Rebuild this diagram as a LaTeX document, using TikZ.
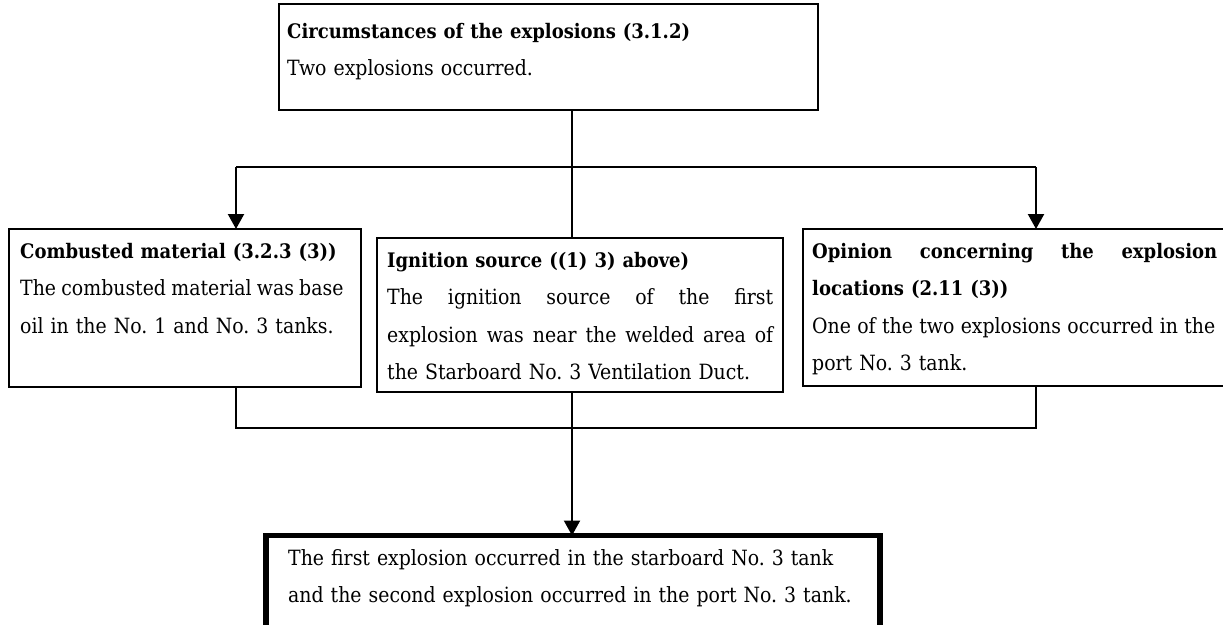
\documentclass[tikz,border=0pt]{standalone}
\usepackage{fontspec}
\setmainfont{DejaVu Serif Condensed}
\usetikzlibrary{arrows.meta}
% a line whose word spaces stretch to a given width
\newcommand{\jline}[2]{\makebox[#1][s]{\spaceskip=.25em plus 1fil\relax #2}}
% box headings
\newcommand{\hd}[1]{{\fontsize{20}{37.5}\selectfont\bfseries #1}}
\begin{document}
\begin{tikzpicture}[x=1pt,y=-1pt,
  box/.style={draw, line width=2pt, inner sep=0pt, outer sep=0pt, anchor=north west},
  finalbox/.style={box, line width=5.5pt},
  txt/.style={anchor=base west, inner sep=0pt, align=left,
              font=\fontsize{21}{37.5}\selectfont},
  conn/.style={line width=2.2pt},
  arr/.style={conn, -{Triangle[width=16pt,length=15pt]}}]
\useasboundingbox (0,0) rectangle (1223,624);
\clip (0,0) rectangle (1223,624);

% boxes
\node[box, minimum width=539pt, minimum height=106pt] (tb) at (279,4) {};
\node[box, minimum width=352pt, minimum height=158pt] (lb) at (9,229) {};
\node[box, minimum width=406pt, minimum height=154pt] (mb) at (377,238) {};
\node[box, minimum width=440pt, minimum height=157pt] (rb) at (803,229) {};
\node[finalbox, minimum width=614pt, minimum height=92pt] (fb) at (266,535.5) {};

% texts
\node[txt, text width=500pt] (tbt) at (287,38)
  {\hd{Circumstances of the explosions (3.1.2)}\\Two explosions occurred.};
\node[txt, text width=330pt] (lbt) at (20,258)
  {\hd{Combusted material (3.2.3 (3))}\\
   \jline{322pt}{The combusted material was base}\\
   oil in the No.~1 and No.~3 tanks.};
\node[txt, text width=390pt] (mbt) at (387,267)
  {\hd{Ignition source ((1) 3) above)}\\
   \jline{386pt}{The ignition source of the first}\\
   \jline{386pt}{explosion was near the welded area of}\\
   the Starboard No.~3 Ventilation Duct.};
\node[txt, text width=410pt] (rbt) at (812,258)
  {\jline{405pt}{\hd{Opinion concerning the explosion}}\\
   \hd{locations (2.11 (3))}\\
   \jline{403pt}{One of the two explosions occurred in the}\\
   port No.~3 tank.};
\node[txt, text width=580pt] (fbt) at (288,565)
  {The first explosion occurred in the starboard No.~3 tank\\
   and the second explosion occurred in the port No.~3 tank.};

% connectors
\coordinate (split) at (572,167);
\coordinate (la) at (236,167);
\coordinate (ra) at (1036,167);
\coordinate (lj) at (236,428);
\coordinate (rj) at (1036,428);
\coordinate (join) at (572,428);

\draw[conn] (tb.south -| split) -- (split);
\draw[conn] (la) -- (ra);
\draw[arr] (la) -- (la |- lb.north);
\draw[arr] (ra) -- (ra |- rb.north);
\draw[conn] (split) -- (split |- mb.north);
\draw[conn] (lj |- lb.south) -- (lj) -- (rj) -- (rj |- rb.south);
\draw[arr] (join |- mb.south) -- (join |- fb.north);
\end{tikzpicture}
\end{document}
